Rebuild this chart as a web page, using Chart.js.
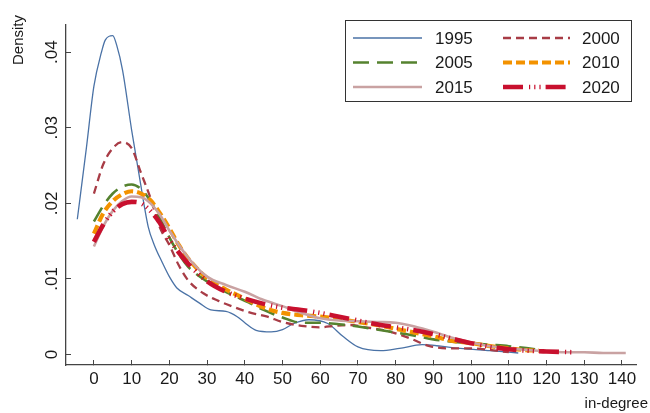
<!DOCTYPE html>
<html><head><meta charset="utf-8">
<script src="https://cdn.jsdelivr.net/npm/chart.js@4.4.1/dist/chart.umd.min.js"></script>
<style>html,body{margin:0;padding:0;background:#fff;}#wrap{width:650px;height:413px;position:relative;}</style>
</head><body><div id="wrap"><canvas id="c" width="650" height="413"></canvas></div>
<script>
const seriesNames = ['1995','2000','2005','2010','2015','2020'];

const x1995 = [-4.4,-2,0,2,3,5,6,7.6,10,12.2,14.4,16,18,20,22,25,28,31,35,38,40,43,47,50,53,57,62,66,70,76,81,87,92,97,105,112.5];
const y1995 = [0.0179,0.0273,0.0355,0.0400,0.0416,0.0422,0.0410,0.0376,0.0297,0.0231,0.0169,0.0145,0.0123,0.0103,0.0088,0.0078,0.0068,0.0059,0.0057,0.0050,0.0042,0.0032,0.0030,0.0033,0.0041,0.0046,0.0041,0.0024,0.0010,0.0005,0.0008,0.0013,0.0011,0.0008,0.0005,0.0002];

const x2000 = [0,2.5,5,7.5,10,12.5,15,17.5,20,22.5,25,29,33,37,41,46,50,55,60,64,68,72,76,80,84,89,95,100,105,110];
const y2000 = [0.0213,0.0252,0.0273,0.0281,0.0273,0.0240,0.0207,0.0168,0.0145,0.0118,0.0098,0.0081,0.0071,0.0063,0.0056,0.0050,0.0043,0.0038,0.0036,0.0038,0.0039,0.0036,0.0033,0.0028,0.0021,0.0011,0.0008,0.0008,0.0006,0.0003];

const x2005 = [0,2.5,5,7.5,10,12.5,15,17.5,20,22.5,25,29,33,37,41,45,50,55,60,65,70,75,80,85,90,95,100,105,110,117];
const y2005 = [0.0176,0.0197,0.0213,0.0222,0.0225,0.0219,0.0203,0.0180,0.0155,0.0133,0.0116,0.0100,0.0088,0.0078,0.0069,0.0059,0.0049,0.0042,0.0042,0.0040,0.0037,0.0033,0.0029,0.0025,0.0020,0.0017,0.0015,0.0013,0.0011,0.0007];

const x2010 = [0,2.5,5,7.5,10,12.5,15,17.5,20,22.5,25,30,35,40,45,50,55,60,65,70,75,80,85,90,95,100,105,110,114,118];
const y2010 = [0.0160,0.0187,0.0203,0.0212,0.0216,0.0213,0.0204,0.0187,0.0167,0.0145,0.0127,0.0101,0.0086,0.0074,0.0062,0.0055,0.0052,0.0050,0.0047,0.0043,0.0039,0.0034,0.0029,0.0024,0.0018,0.0015,0.0011,0.0008,0.0006,0.0005];

const x2015 = [0,2.5,5,7.5,10,12.5,15,17.5,20,25,30,35,40,45,50,55,60,65,70,75,80,85,90,95,100,105,110,115,120,125,130,135,141];
const y2015 = [0.0143,0.0170,0.0190,0.0203,0.0209,0.0208,0.0200,0.0185,0.0164,0.0128,0.0103,0.0092,0.0083,0.0072,0.0064,0.0055,0.0048,0.0045,0.0044,0.0043,0.0042,0.0037,0.0030,0.0022,0.0016,0.0011,0.0008,0.0006,0.0004,0.0003,0.0003,0.0002,0.0002];

const x2020 = [0,2.5,5,7.5,10,12.5,15,17.5,20,22.5,25,30,35,40,45,50,55,60,65,70,75,80,85,90,95,100,105,110,115,120,127];
const y2020 = [0.0149,0.0172,0.0189,0.0199,0.0202,0.0200,0.0190,0.0174,0.0152,0.0135,0.0120,0.0097,0.0083,0.0074,0.0067,0.0062,0.0059,0.0055,0.0050,0.0045,0.0040,0.0036,0.0032,0.0027,0.0021,0.0015,0.0010,0.0007,0.0005,0.0004,0.0003];

const xTickValues = [0,10,20,30,40,50,60,70,80,90,100,110,120,130,140];
const xTickLabels = ['0','10','20','30','40','50','60','70','80','90','100','110','120','130','140'];
const yTickValues = [0,0.01,0.02,0.03,0.04];
const yTickLabels = ['0','.01','.02','.03','.04'];
const yTitle = 'Density';
const xTitle = 'in-degree';

const FONT = '"Liberation Sans", Arial, sans-serif';
const xsAll = [x1995,x2000,x2005,x2010,x2015,x2020];
const ysAll = [y1995,y2000,y2005,y2010,y2015,y2020];
const styles = [
  {color:'#4a72a6', width:1.3, dash:[]},
  {color:'#a83c46', width:2.3, dash:[8,5]},
  {color:'#55822f', width:2.6, dash:[16,8]},
  {color:'#f39200', width:4.2, dash:[9,4]},
  {color:'#c9a2a2', width:2.6, dash:[]},
  {color:'#c8102e', width:4.6, dash:[20,6,1.2,4,1.2,4,1.2,5]}
];

const datasets = seriesNames.map((name,i)=>({
  label: name,
  data: xsAll[i].map((x,j)=>({x:x, y:ysAll[i][j]})),
  borderColor: styles[i].color,
  borderWidth: styles[i].width,
  borderDash: styles[i].dash,
  borderCapStyle: 'butt',
  borderJoinStyle: 'round',
  pointRadius: 0,
  fill: false,
  cubicInterpolationMode: 'monotone',
  order: 6 - i
}));

const textPlugin = {
  id: 'stataText',
  afterDraw(chart){
    const ctx = chart.ctx;
    const ys = chart.scales.y;
    ctx.save();
    ctx.fillStyle = '#1a1a1a';
    ctx.font = '17px ' + FONT;
    ctx.textAlign = 'center';
    ctx.textBaseline = 'middle';
    yTickValues.forEach((v,i)=>{
      const py = ys.getPixelForValue(v);
      ctx.save();
      ctx.translate(52, py);
      ctx.rotate(-Math.PI/2);
      ctx.fillText(yTickLabels[i], 0, 0);
      ctx.restore();
    });
    ctx.font = '15px ' + FONT;
    ctx.save();
    ctx.translate(19, 40);
    ctx.rotate(-Math.PI/2);
    ctx.fillText(yTitle, 0, 0);
    ctx.restore();
    ctx.textAlign = 'right';
    ctx.textBaseline = 'alphabetic';
    ctx.fillText(xTitle, 648, 408);
    ctx.strokeStyle = '#333';
    ctx.lineWidth = 1;
    ctx.strokeRect(345.5, 20.5, 286, 81);
    const rowsY = [38, 62.5, 87];
    const colLine = [[353,422],[503,570]];
    const colText = [435, 582];
    ctx.font = '17px ' + FONT;
    ctx.textAlign = 'left';
    ctx.textBaseline = 'middle';
    chart.data.datasets.forEach((ds,i)=>{
      const r = Math.floor(i/2), c = i%2;
      ctx.save();
      ctx.strokeStyle = ds.borderColor;
      ctx.lineWidth = ds.borderWidth;
      ctx.setLineDash(ds.borderDash);
      ctx.lineCap = 'butt';
      ctx.beginPath();
      ctx.moveTo(colLine[c][0], rowsY[r]);
      ctx.lineTo(colLine[c][1], rowsY[r]);
      ctx.stroke();
      ctx.restore();
      ctx.fillStyle = '#1a1a1a';
      ctx.fillText(ds.label, colText[c], rowsY[r] + 1);
    });
    ctx.restore();
  }
};

new Chart(document.getElementById('c'), {
  type: 'line',
  data: { datasets: datasets },
  options: {
    responsive: false,
    animation: false,
    devicePixelRatio: 1,
    layout: { padding: { left: 0, top: 25, right: 13.3, bottom: 0 } },
    plugins: { legend: { display: false }, tooltip: { enabled: false } },
    scales: {
      x: {
        type: 'linear',
        position: 'bottom',
        min: -7.4, max: 143.9,
        afterFit(s){ s.height = 48; },
        afterBuildTicks(s){ s.ticks = xTickValues.map(v=>({value:v})); },
        ticks: {
          autoSkip: false, maxRotation: 0, minRotation: 0, padding: 9,
          color: '#1a1a1a', font: { family: FONT, size: 17 },
          callback: (v, i) => xTickLabels[i]
        },
        grid: { drawOnChartArea: false, drawTicks: true, tickLength: -5, color: '#444', lineWidth: 1 },
        border: { display: true, color: '#444', width: 1.3 }
      },
      y: {
        type: 'linear',
        position: 'left',
        min: -0.00139, max: 0.0436,
        afterFit(s){ s.width = 66; },
        afterBuildTicks(s){ s.ticks = yTickValues.map(v=>({value:v})); },
        ticks: { display: false },
        grid: { drawOnChartArea: false, drawTicks: true, tickLength: -5, color: '#444', lineWidth: 1 },
        border: { display: true, color: '#444', width: 1.3 }
      }
    }
  },
  plugins: [textPlugin]
});
</script>
</body></html>
